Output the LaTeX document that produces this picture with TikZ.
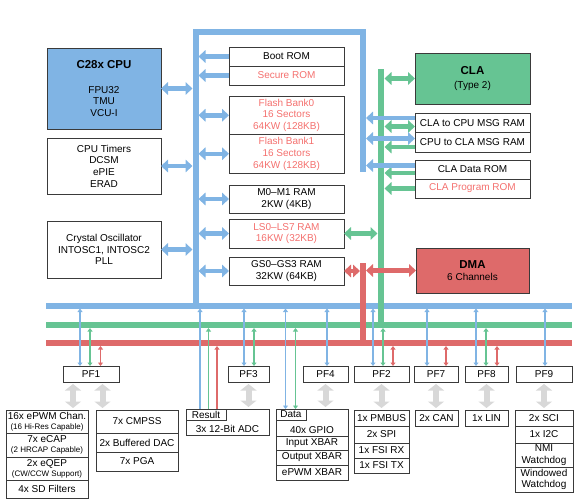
\documentclass[tikz,border=0pt]{standalone}
\usepackage{fontspec}
\setmainfont{Liberation Sans}
\usetikzlibrary{arrows.meta,positioning}
\definecolor{busblue}{HTML}{80B4E4}
\definecolor{busgreen}{HTML}{66C493}
\definecolor{busred}{HTML}{DE6A6A}
\definecolor{memred}{HTML}{F4706E}
\definecolor{boxgray}{HTML}{3A3A3A}
\definecolor{pfgray}{HTML}{D8D8D8}
\tikzset{
  blk/.style={draw=boxgray, line width=0.8pt, inner sep=0pt, outer sep=0pt, align=center, font=\fontsize{10}{11.7}\selectfont},
  bus/.style={line width=6pt},
  memdbl/.style={line width=4.5pt, {Triangle[width=12.5pt,length=7pt]}-{Triangle[width=12.5pt,length=7pt]}},
  memend/.style={line width=4.5pt, -{Triangle[width=12.5pt,length=7pt]}},
  pfline/.style={line width=1.8pt, {Triangle[width=5pt,length=3.5pt]}-{Triangle[width=5pt,length=3.5pt]}},
  pfup/.style={line width=1.8pt, {Triangle[width=5pt,length=3.5pt]}-},
  pfarrow/.style={draw=pfgray, line width=6pt, shorten <=2pt, shorten >=2pt, {Triangle[width=16pt,length=6.5pt]}-{Triangle[width=16pt,length=6.5pt]}},
}
\newcommand{\smalltxt}[1]{{\fontsize{8}{9}\selectfont #1}}
\begin{document}
\begin{tikzpicture}[x=1pt,y=-1pt]
\useasboundingbox (0,0) rectangle (582,504);
% bus edges
\coordinate (lbusW) at (192.5,0);
\coordinate (lbusE) at (198.5,0);
\coordinate (rbusE) at (366,0);
\coordinate (gbusW) at (377.5,0);
\coordinate (gbusE) at (384.5,0);
\coordinate (rdbusW) at (360,0);
\coordinate (rdbusE) at (366,0);
\coordinate (hb) at (0,308.5);
\coordinate (hg) at (0,328);
\coordinate (hr) at (0,346);

% buses
\draw[bus, busblue] (46,305.5) -- (572,305.5);
\draw[bus, busgreen] (46,325) -- (572,325);
\draw[bus, busred] (46,343) -- (572,343);
\draw[bus, busblue] (195.5,305.5) -- (195.5,31.5) -- (363,31.5) -- (363,172);
\draw[bus, busgreen] (381,69) -- (381,325);
\draw[bus, busred] (363,263) -- (363,343);

% CPU side
\node[blk, fill=busblue, minimum width=114pt, minimum height=81pt] (cpu) at (104,88.5) {{\bfseries\fontsize{11.5}{13}\selectfont C28x CPU}\\[13pt]FPU32\\TMU\\VCU-I};
\node[blk, minimum width=114pt, minimum height=56pt] (timers) at (104,166) {CPU Timers\\DCSM\\ePIE\\ERAD};
\node[blk, minimum width=114pt, minimum height=57pt] (osc) at (104,249.5) {Crystal Oscillator\\INTOSC1, INTOSC2\\PLL};
\draw[memdbl, busblue] (cpu.east) -- (cpu.east -| lbusW);
\draw[memdbl, busblue] (timers.east) -- (timers.east -| lbusW);
\draw[memdbl, busblue] (osc.east) -- (osc.east -| lbusW);

% memories
\node[blk, minimum width=115pt, minimum height=19pt] (boot) at (286.5,56.5) {Boot ROM};
\node[blk, minimum width=115pt, minimum height=19pt, text=memred, below=0pt of boot] (secure) {Secure ROM};
\node[blk, minimum width=115pt, minimum height=38.5pt, text=memred] (flash0) at (286.5,115.25) {Flash Bank0\\16 Sectors\\64KW (128KB)};
\node[blk, minimum width=115pt, minimum height=38.5pt, text=memred, below=0pt of flash0] (flash1) {Flash Bank1\\16 Sectors\\64KW (128KB)};
\node[blk, minimum width=115pt, minimum height=28pt] (m0) at (286.5,199) {M0--M1 RAM\\2KW (4KB)};
\node[blk, minimum width=115pt, minimum height=29pt, text=memred] (ls) at (286.5,233.5) {LS0--LS7 RAM\\16KW (32KB)};
\node[blk, minimum width=115pt, minimum height=28pt] (gs) at (286.5,271) {GS0--GS3 RAM\\32KW (64KB)};
\draw[memend, busblue] (boot.west) -- (boot.west -| lbusE);
\draw[memend, busblue] (secure.west) -- (secure.west -| lbusE);
\draw[memdbl, busblue] (flash0.west) -- (flash0.west -| lbusE);
\draw[memdbl, busblue] (flash1.west) -- (flash1.west -| lbusE);
\draw[memdbl, busblue] (m0.west) -- (m0.west -| lbusE);
\draw[memdbl, busblue] (ls.west) -- (ls.west -| lbusE);
\draw[memdbl, busblue] (gs.west) -- (gs.west -| lbusE);
\draw[memdbl, busgreen] (ls.east) -- (ls.east -| gbusW);
\draw[memdbl, busred] (gs.east) -- (gs.east -| rdbusW);

% CLA and DMA
\node[blk, fill=busgreen, minimum width=115pt, minimum height=51pt] (cla) at (472.5,78.5) {{\bfseries\fontsize{11.5}{13}\selectfont CLA}\\[2pt](Type 2)};
\node[blk, minimum width=115pt, minimum height=19.5pt] (cla2cpu) at (472.5,123) {CLA to CPU MSG RAM};
\node[blk, minimum width=115pt, minimum height=19.5pt, below=0pt of cla2cpu] (cpu2cla) {CPU to CLA MSG RAM};
\node[blk, minimum width=115pt, minimum height=19pt] (cladata) at (472.5,169.5) {CLA Data ROM};
\node[blk, minimum width=115pt, minimum height=19pt, text=memred, below=0pt of cladata] (claprog) {CLA Program ROM};
\node[blk, fill=busred, minimum width=113pt, minimum height=45pt] (dma) at (472.5,270.5) {{\bfseries\fontsize{11.5}{13}\selectfont DMA}\\[1pt]6 Channels};
\coordinate (c2cB) at ([yshift=5pt]cla2cpu.west);
\coordinate (c2cG) at ([yshift=-3.5pt]cla2cpu.west);
\coordinate (cp2cB) at ([yshift=4pt]cpu2cla.west);
\coordinate (cp2cG) at ([yshift=-4.5pt]cpu2cla.west);
\coordinate (cdB) at ([yshift=4pt]cladata.west);
\coordinate (cdG) at ([yshift=-3.5pt]cladata.west);
\draw[memdbl, busgreen] (cla.west -| gbusE) -- (cla.west);
\draw[memdbl, busgreen] (c2cG) -- (c2cG -| gbusE);
\draw[memend, busgreen] (cp2cG) -- (cp2cG -| gbusE);
\draw[memend, busgreen] (cdG) -- (cdG -| gbusE);
\draw[memend, busgreen] (claprog.west) -- (claprog.west -| gbusE);
\draw[memend, busblue] (c2cB) -- (c2cB -| rbusE);
\draw[memdbl, busblue] (cp2cB) -- (cp2cB -| rbusE);
\draw[memend, busblue] (cdB) -- (cdB -| rbusE);
\draw[memdbl, busred] (dma.west -| rdbusE) -- (dma.west);

% peripheral frames
\node[blk, minimum width=56pt, minimum height=16pt] (pf1) at (91,374) {PF1};
\node[blk, minimum width=41pt, minimum height=16pt] (pf3) at (248.5,374) {PF3};
\node[blk, minimum width=45pt, minimum height=16pt] (pf4) at (325.5,374) {PF4};
\node[blk, minimum width=55pt, minimum height=16pt] (pf2) at (381.5,374) {PF2};
\node[blk, minimum width=44pt, minimum height=16pt] (pf7) at (436,374) {PF7};
\node[blk, minimum width=43pt, minimum height=16pt] (pf8) at (486.5,374) {PF8};
\node[blk, minimum width=56pt, minimum height=16pt] (pf9) at (544,374) {PF9};

% peripherals
\node[blk, minimum width=82pt, minimum height=23pt] (epwm) at (47,421.5) {16x ePWM Chan.\\[-1.7pt]\smalltxt{(16 Hi-Res Capable)}};
\node[blk, minimum width=82pt, minimum height=24pt, below=0pt of epwm] (ecap) {7x eCAP\\[-1.7pt]\smalltxt{(2 HRCAP Capable)}};
\node[blk, minimum width=82pt, minimum height=23pt, below=0pt of ecap] (eqep) {2x eQEP\\[-1.7pt]\smalltxt{(CW/CCW Support)}};
\node[blk, minimum width=82pt, minimum height=18pt, below=0pt of eqep] (sdfm) {4x SD Filters};
\node[blk, minimum width=82pt, minimum height=23pt] (cmpss) at (137,421.5) {7x CMPSS};
\node[blk, minimum width=82pt, minimum height=19pt, below=0pt of cmpss] (dac) {2x Buffered DAC};
\node[blk, minimum width=82pt, minimum height=19pt, below=0pt of dac] (pga) {7x PGA};
\node[blk, minimum width=83pt, minimum height=26pt] (adc) at (227.5,422) {};
\node[blk, minimum width=40pt, minimum height=11pt, anchor=north west] (result) at (adc.north west) {Result};
\node[font=\fontsize{10}{11.7}\selectfont, inner sep=0pt] (adclbl) at (227.5,429) {3x 12-Bit ADC};
\node[blk, minimum width=72pt, minimum height=27pt] (gpio) at (312,422.5) {};
\node[blk, minimum width=30pt, minimum height=11pt, anchor=north west] (gpiodata) at (gpio.north west) {Data};
\node[font=\fontsize{10}{11.7}\selectfont, inner sep=0pt] (gpiolbl) at (312,430) {40x GPIO};
\node[blk, minimum width=72pt, minimum height=14pt, below=0pt of gpio] (inxbar) {Input XBAR};
\node[blk, minimum width=72pt, minimum height=15pt, below=0pt of inxbar] (outxbar) {Output XBAR};
\node[blk, minimum width=72pt, minimum height=15pt, below=0pt of outxbar] (pwmxbar) {ePWM XBAR};
\node[blk, minimum width=55pt, minimum height=16pt] (pmbus) at (381.5,418) {1x PMBUS};
\node[blk, minimum width=55pt, minimum height=17pt, below=0pt of pmbus] (spi) {2x SPI};
\node[blk, minimum width=55pt, minimum height=15pt, below=0pt of spi] (fsirx) {1x FSI RX};
\node[blk, minimum width=55pt, minimum height=15pt, below=0pt of fsirx] (fsitx) {1x FSI TX};
\node[blk, minimum width=43pt, minimum height=16pt] (can) at (436.5,418) {2x CAN};
\node[blk, minimum width=43pt, minimum height=16pt] (lin) at (486.5,418) {1x LIN};
\node[blk, minimum width=58pt, minimum height=16pt] (sci) at (544,418) {2x SCI};
\node[blk, minimum width=58pt, minimum height=17pt, below=0pt of sci] (i2c) {1x I2C};
\node[blk, minimum width=58pt, minimum height=24pt, below=0pt of i2c] (nmi) {NMI\\Watchdog};
\node[blk, minimum width=58pt, minimum height=25pt, below=0pt of nmi] (wwd) {Windowed\\Watchdog};

% frame to peripheral arrows
\draw[pfarrow] (73,0 |- pf1.south) -- (73,0 |- epwm.north);
\draw[pfarrow] (102.5,0 |- pf1.south) -- (102.5,0 |- cmpss.north);
\draw[pfarrow] (pf3.south) -- (pf3.south |- adc.north);
\draw[pfarrow] (pf4.south) -- (pf4.south |- gpio.north);
\draw[pfarrow] (pf2.south) -- (pf2.south |- pmbus.north);
\draw[pfarrow] (pf7.south) -- (pf7.south |- can.north);
\draw[pfarrow] (pf8.south) -- (pf8.south |- lin.north);
\draw[pfarrow] (pf9.south) -- (pf9.south |- sci.north);

% bus taps
\draw[pfline, busblue] (80,0 |- hb) -- (80,0 |- pf1.north);
\draw[pfline, busgreen] (90,0 |- hg) -- (90,0 |- pf1.north);
\draw[pfline, busred] (100.5,0 |- hr) -- (100.5,0 |- pf1.north);
\draw[pfup, busblue] (200,0 |- hb) -- (200,0 |- adc.north);
\draw[pfup, busgreen] (208.5,0 |- hg) -- (208.5,0 |- adc.north);
\draw[pfup, busred] (217,0 |- hr) -- (217,0 |- adc.north);
\draw[pfline, busblue] (244,0 |- hb) -- (244,0 |- pf3.north);
\draw[pfline, busgreen] (254,0 |- hg) -- (254,0 |- pf3.north);
\draw[pfline, busblue] (285.5,0 |- hb) -- (285.5,0 |- gpio.north);
\draw[pfline, busgreen] (295.5,0 |- hg) -- (295.5,0 |- gpio.north);
\draw[pfline, busblue] (327,0 |- hb) -- (327,0 |- pf4.north);
\draw[pfline, busblue] (373,0 |- hb) -- (373,0 |- pf2.north);
\draw[pfline, busgreen] (383,0 |- hg) -- (383,0 |- pf2.north);
\draw[pfline, busred] (393,0 |- hr) -- (393,0 |- pf2.north);
\draw[pfline, busblue] (427,0 |- hb) -- (427,0 |- pf7.north);
\draw[pfline, busred] (446,0 |- hr) -- (446,0 |- pf7.north);
\draw[pfline, busblue] (476,0 |- hb) -- (476,0 |- pf8.north);
\draw[pfline, busgreen] (486,0 |- hg) -- (486,0 |- pf8.north);
\draw[pfline, busred] (497,0 |- hr) -- (497,0 |- pf8.north);
\draw[pfline, busblue] (545,0 |- hb) -- (545,0 |- pf9.north);
\end{tikzpicture}
\end{document}
